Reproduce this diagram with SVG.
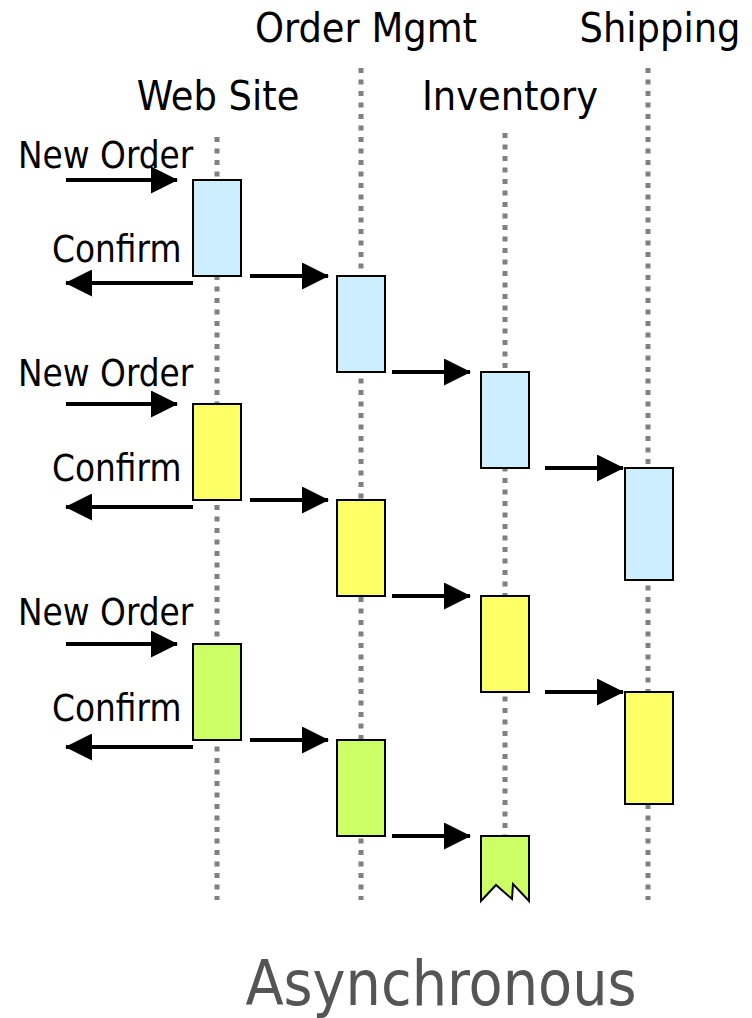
<svg xmlns="http://www.w3.org/2000/svg" width="752" height="1018" viewBox="0 0 752 1018">
<style>
text{font-family:"DejaVu Sans","Liberation Sans",sans-serif;font-stretch:condensed;fill:#000}
.hdr{font-size:41px;text-anchor:middle}
.lbl{font-size:36.5px}
.title{font-size:62px;fill:#555;text-anchor:middle}
.life{stroke:#808080;stroke-width:5;stroke-dasharray:5 6.5;fill:none}
.act{stroke:#000;stroke-width:2}
.blue{fill:#CCEEFF}.yellow{fill:#FFFF66}.green{fill:#CCFF66}
.arr{stroke:#000;stroke-width:4;fill:none;marker-end:url(#ah)}
</style>
<defs>
<marker id="ah" viewBox="0 0 27 27" refX="26" refY="13.5" markerWidth="27" markerHeight="27" markerUnits="userSpaceOnUse" orient="auto">
<path d="M0,0 L27,13.5 L0,27 Z" fill="#000"/>
</marker>
</defs>
<g id="lifelines">
<line class="life" x1="217" y1="137" x2="217" y2="900"/>
<line class="life" x1="361" y1="68" x2="361" y2="900"/>
<line class="life" x1="505" y1="133" x2="505" y2="836"/>
<line class="life" x1="648" y1="68" x2="648" y2="900"/>
</g>
<g id="headers">
<text class="hdr" x="366" y="42">Order Mgmt</text>
<text class="hdr" x="660" y="42">Shipping</text>
<text class="hdr" x="218" y="110">Web Site</text>
<text class="hdr" x="510" y="110">Inventory</text>
</g>
<g id="web-site">
<rect class="act blue" x="193" y="180" width="48" height="96"/>
<rect class="act yellow" x="193" y="404" width="48" height="96"/>
<rect class="act green" x="193" y="644" width="48" height="96"/>
</g>
<g id="order-mgmt">
<rect class="act blue" x="337" y="276" width="48" height="96"/>
<rect class="act yellow" x="337" y="500" width="48" height="96"/>
<rect class="act green" x="337" y="740" width="48" height="96"/>
</g>
<g id="inventory">
<rect class="act blue" x="481" y="372" width="48" height="96"/>
<rect class="act yellow" x="481" y="596" width="48" height="96"/>
<path class="act green" d="M481,836 L529,836 L529,901 L513,884 L512,899 L496,885 L481,901 Z"/>
</g>
<g id="shipping">
<rect class="act blue" x="625" y="468" width="48" height="112"/>
<rect class="act yellow" x="625" y="692" width="48" height="112"/>
</g>
<g id="connectors">
<line class="arr" x1="66" y1="180" x2="177" y2="180"/>
<line class="arr" x1="193" y1="283" x2="66" y2="283"/>
<line class="arr" x1="250" y1="276" x2="328" y2="276"/>
<line class="arr" x1="392" y1="372" x2="470" y2="372"/>
<line class="arr" x1="545" y1="468" x2="623" y2="468"/>
<line class="arr" x1="66" y1="404" x2="177" y2="404"/>
<line class="arr" x1="193" y1="507" x2="66" y2="507"/>
<line class="arr" x1="250" y1="500" x2="328" y2="500"/>
<line class="arr" x1="392" y1="596" x2="470" y2="596"/>
<line class="arr" x1="545" y1="692" x2="623" y2="692"/>
<line class="arr" x1="66" y1="644" x2="177" y2="644"/>
<line class="arr" x1="193" y1="747" x2="66" y2="747"/>
<line class="arr" x1="250" y1="740" x2="328" y2="740"/>
<line class="arr" x1="392" y1="836" x2="470" y2="836"/>
</g>
<g id="labels">
<text class="lbl" x="18" y="168">New Order</text>
<text class="lbl" x="52" y="262">Confirm</text>
<text class="lbl" x="18" y="386">New Order</text>
<text class="lbl" x="52" y="481">Confirm</text>
<text class="lbl" x="18" y="625">New Order</text>
<text class="lbl" x="52" y="721">Confirm</text>
</g>
<text class="title" x="441" y="1005">Asynchronous</text>
</svg>
